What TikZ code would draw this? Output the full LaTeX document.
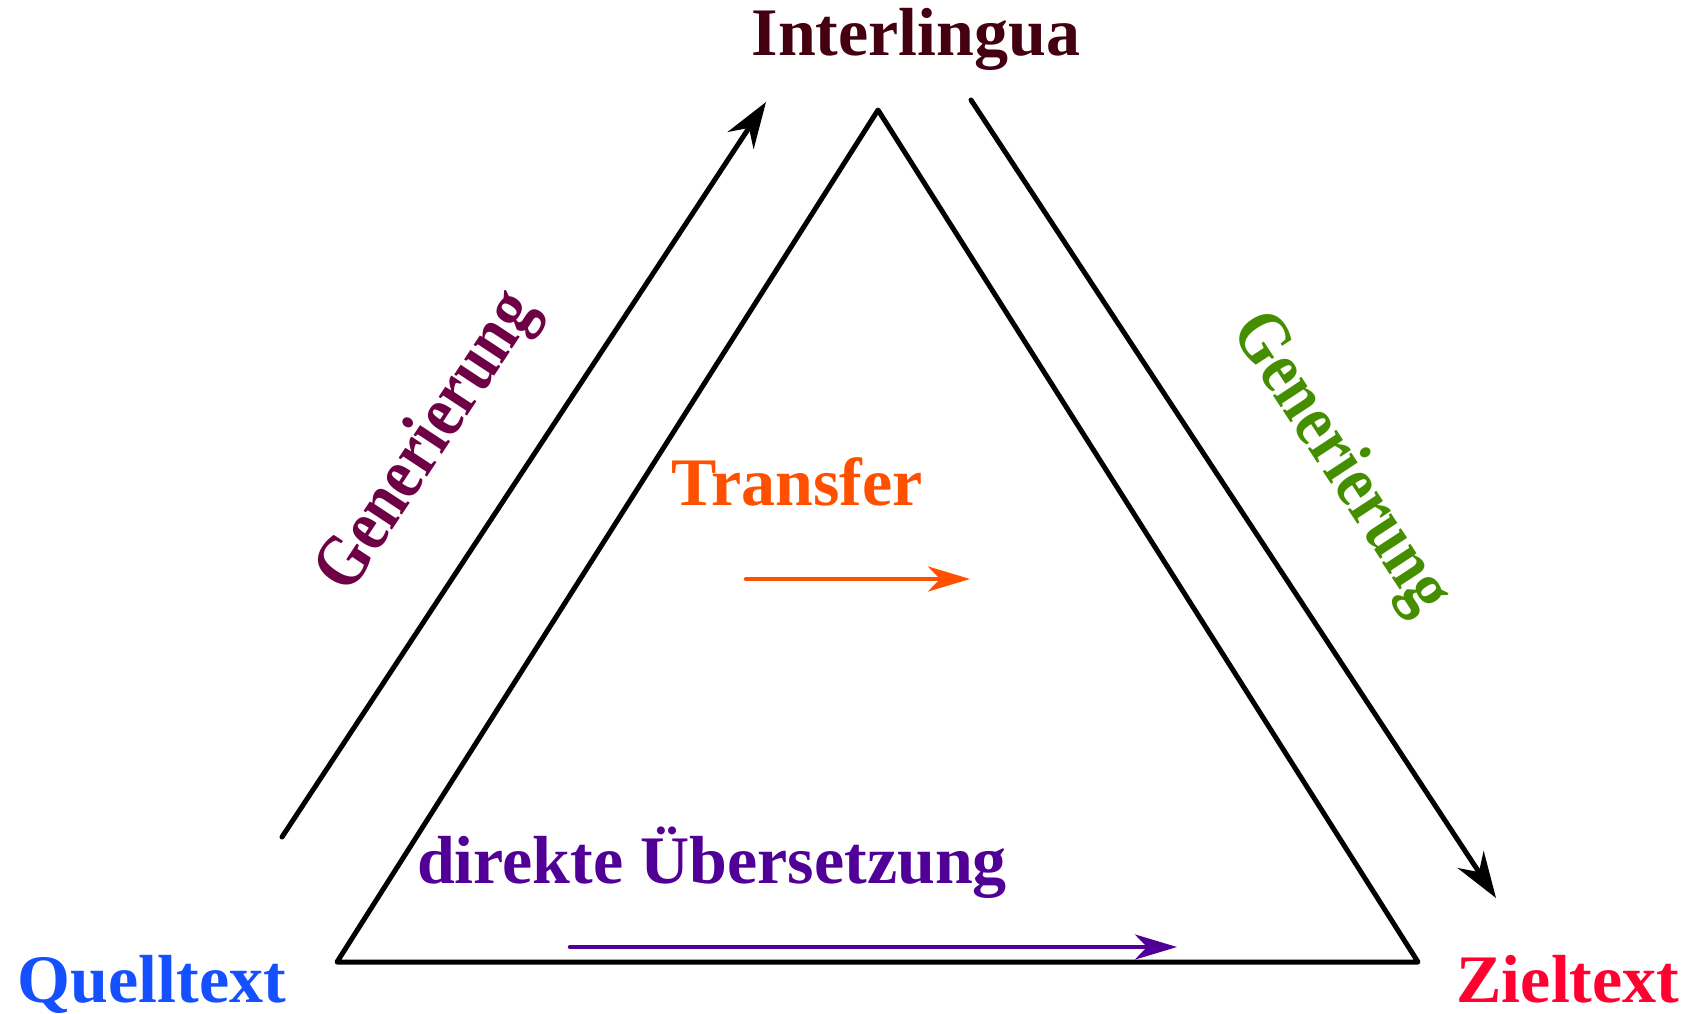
\documentclass[tikz,border=0pt]{standalone}
\usepackage{fontspec}
\setmainfont{Liberation Serif}
\usepackage{xcolor}
\usetikzlibrary{positioning,arrows.meta}
\definecolor{interlinguacol}{HTML}{440010}
\definecolor{quellcol}{HTML}{1450FF}
\definecolor{zielcol}{HTML}{FF0030}
\definecolor{transfercol}{HTML}{FF5000}
\definecolor{direktcol}{HTML}{500096}
\definecolor{genleftcol}{HTML}{6E0046}
\definecolor{genrightcol}{HTML}{458E00}

\begin{document}
\begin{tikzpicture}[x=1pt, y=-1pt,
      arrowstyle/.style={-{Stealth[length=46pt, width=31pt, inset=15pt]}, line width=5pt, line cap=round},
      flatarrow/.style={-{Stealth[length=42pt, width=25pt, inset=12pt]}, line width=4.5pt, line cap=round}]
      % A text style
      \tikzstyle{labelnode} = [inner sep=0pt, font=\fontsize{68}{80}\selectfont\bfseries]
      \tikzstyle{sidelabel} = [labelnode, font=\fontsize{74}{86}\selectfont\bfseries, transform shape]
      \useasboundingbox (0,0) rectangle (1690,1013);

      % Corners of the triangle
      \coordinate (Top)   at (878,110);
      \coordinate (Left)  at (337,962);
      \coordinate (Right) at (1418,962);
      \draw[line width=5pt, line join=round] (Top) -- (Left) -- (Right) -- cycle;

      % Place the corner labels
      \node (Interlingua) [labelnode, anchor=base, text=interlinguacol] at (916,55) {Interlingua};
      \node (Quelltext)   [labelnode, anchor=base, text=quellcol] at (152,1002) {Quelltext};
      \node (Zieltext)    [labelnode, anchor=base, text=zielcol] at (1568,1002) {Zieltext};

      % Labels inside and along the sides
      \node (Transfer) [labelnode, anchor=base, text=transfercol] at (797,505) {Transfer};
      \node (Direkt)   [labelnode, anchor=base, text=direktcol] at (712,883) {direkte Übersetzung};
      \node (GenLeft)  [sidelabel, rotate=56.6, xscale=0.85, text=genleftcol] at (429,443) {Generierung};
      \node (GenRight) [sidelabel, rotate=-56.7, xscale=0.85, text=genrightcol] at (1339,464) {Generierung};

      % End points of the arrows
      \coordinate (UpStart)   at (282,837);
      \coordinate (UpEnd)     at (766,102);
      \coordinate (DownStart) at (971,100);
      \coordinate (DownEnd)   at (1496,898);
      \coordinate (TransStart) at (746,579);
      \coordinate (TransEnd)   at (970,579);
      \coordinate (DirStart)  at (570,947);
      \coordinate (DirEnd)    at (1177,947);

      % Draw the arrows
      \draw [arrowstyle] (UpStart) -- (UpEnd);
      \draw [arrowstyle] (DownStart) -- (DownEnd);
      \draw [flatarrow, transfercol] (TransStart) -- (TransEnd);
      \draw [flatarrow, direktcol] (DirStart) -- (DirEnd);
\end{tikzpicture}
\end{document}
